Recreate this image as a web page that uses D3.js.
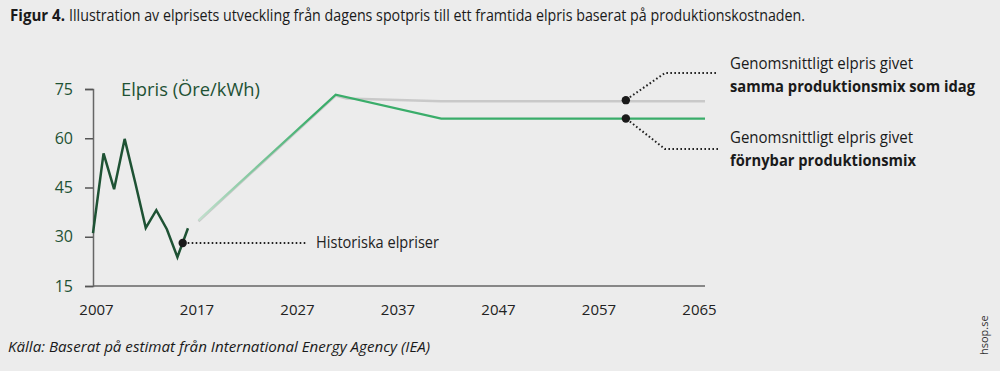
<!DOCTYPE html>
<html>
<head>
<meta charset="utf-8">
<script src="https://cdn.jsdelivr.net/npm/d3@7"></script>
<style>
  body { margin: 0; background: #ececec; }
  svg { display: block; font-family: "Open Sans", sans-serif; }
</style>
</head>
<body>
<svg id="chart"></svg>
<script>
// data
const histYears = [2007, 2008, 2009, 2010, 2011, 2012, 2013, 2014, 2015, 2016];
const histValues = [31.1, 55.4, 44.5, 59.8, 46.5, 32.7, 38.1, 32.3, 23.8, 32.6];
const sameMixYears = [2017, 2030, 2031, 2040, 2065];
const sameMixValues = [35, 73.3, 72.4, 71.6, 71.6];
const renewYears = [2017, 2030, 2040, 2065];
const renewValues = [35, 73.3, 66, 66];
const yTicks = [15, 30, 45, 60, 75];
const xTickLabels = ["2007", "2017", "2027", "2037", "2047", "2057", "2065"];
const histMarker = { year: 2015.5, value: 28.1 };
const markerYear = 2057.5;

const width = 1000;
const height = 371;

const svg = d3.select("#chart").attr("width", width).attr("height", height);

const xScale = d3.scaleLinear().domain([2007, 2065]).range([93, 705]);
const yScale = d3.scaleLinear().domain([15, 75]).range([286, 89]);
// year labels in the figure are evenly spaced, not at their true positions
const labelScale = d3.scalePoint().domain(xTickLabels).range([96, 699]);

const darkGreen = "#1e5234";
const green = "#3aad6a";

// title (two pieces so each can be fitted to its width)
svg.append("text").attr("x", 10).attr("y", 21)
  .style("font-size", "16.5px").style("font-weight", "bold").attr("fill", "#1a1a1a")
  .attr("textLength", 55).attr("lengthAdjust", "spacingAndGlyphs")
  .text("Figur 4.");
svg.append("text").attr("x", 69).attr("y", 21)
  .style("font-size", "16.5px").attr("fill", "#1a1a1a")
  .attr("textLength", 736).attr("lengthAdjust", "spacingAndGlyphs")
  .text("Illustration av elprisets utveckling från dagens spotpris till ett framtida elpris baserat på produktionskostnaden.");

// axes
const yAxis = d3.axisLeft(yScale).tickValues(yTicks).tickSize(8).tickPadding(12);
const gy = svg.append("g").attr("transform", "translate(93,0)").call(yAxis);
gy.select(".domain").attr("stroke", "#666").attr("stroke-width", 1.5);
gy.selectAll(".tick line").attr("stroke", "#555").attr("stroke-width", 1.5);
gy.selectAll(".tick text").attr("fill", darkGreen).style("font-size", "16px")
  .style("font-family", "'Open Sans', sans-serif");

svg.append("line")
  .attr("x1", xScale(2007)).attr("x2", xScale(2065))
  .attr("y1", yScale(15)).attr("y2", yScale(15))
  .attr("stroke", "#666").attr("stroke-width", 1.5);

const xAxis = d3.axisBottom(labelScale).tickSize(0).tickPadding(18);
const gx = svg.append("g").attr("transform", "translate(0,286)").call(xAxis);
gx.select(".domain").remove();
gx.selectAll(".tick text").attr("fill", "#222").style("font-size", "15px")
  .style("font-family", "'Open Sans', sans-serif");

// unit label
svg.append("text").attr("x", 121).attr("y", 96)
  .attr("fill", darkGreen).style("font-size", "19px")
  .attr("textLength", 139).attr("lengthAdjust", "spacingAndGlyphs")
  .text("Elpris (Öre/kWh)");

const line = d3.line().x((d) => xScale(d[0])).y((d) => yScale(d[1]));

// fade for the forecast start
const grad = svg.append("defs").append("linearGradient")
  .attr("id", "fade").attr("gradientUnits", "userSpaceOnUse")
  .attr("x1", xScale(2017)).attr("x2", xScale(2028)).attr("y1", 0).attr("y2", 0);
grad.append("stop").attr("offset", 0).attr("stop-color", "#c3e0ce");
grad.append("stop").attr("offset", 1).attr("stop-color", green);

svg.append("path")
  .datum(d3.zip(sameMixYears, sameMixValues))
  .attr("d", line)
  .attr("transform", "translate(0,1)")
  .attr("fill", "none").attr("stroke", "#c9c9c9").attr("stroke-width", 2.5);

svg.append("path")
  .datum(d3.zip(renewYears, renewValues))
  .attr("d", line)
  .attr("fill", "none").attr("stroke", "url(#fade)").attr("stroke-width", 2.2);

svg.append("path")
  .datum(d3.zip(histYears, histValues))
  .attr("d", line)
  .attr("fill", "none").attr("stroke", darkGreen).attr("stroke-width", 2.5)
  .attr("stroke-linejoin", "miter");

// annotations
const dotted = (pts) => svg.append("path")
  .attr("d", d3.line()(pts))
  .attr("fill", "none").attr("stroke", "#222").attr("stroke-width", 2)
  .attr("stroke-dasharray", "1.6,2.4");

const hx = xScale(histMarker.year), hy = yScale(histMarker.value);
dotted([[hx + 5, hy], [307, hy]]);
svg.append("circle").attr("cx", hx).attr("cy", hy).attr("r", 4.2).attr("fill", "#1a1a1a");
svg.append("text").attr("x", 316).attr("y", hy + 5)
  .attr("fill", "#222").style("font-size", "15.5px")
  .attr("textLength", 123).attr("lengthAdjust", "spacingAndGlyphs")
  .text("Historiska elpriser");

const mx = xScale(markerYear);
const topY = yScale(sameMixValues[sameMixValues.length - 1]);
const botY = yScale(renewValues[renewValues.length - 1]);
dotted([[mx + 4, topY - 3], [665, 73], [718, 73]]);
dotted([[mx + 4, botY + 3], [665, 149], [718, 149]]);
svg.append("circle").attr("cx", mx).attr("cy", topY).attr("r", 4.2).attr("fill", "#1a1a1a");
svg.append("circle").attr("cx", mx).attr("cy", botY).attr("r", 4.2).attr("fill", "#1a1a1a");

const note = (y, txt, bold, len) => svg.append("text").attr("x", 730).attr("y", y)
  .attr("fill", "#1a1a1a").style("font-size", "16px")
  .style("font-weight", bold ? "bold" : "normal")
  .attr("textLength", len).attr("lengthAdjust", "spacingAndGlyphs")
  .text(txt);
note(69, "Genomsnittligt elpris givet", false, 183);
note(92, "samma produktionsmix som idag", true, 245);
note(143, "Genomsnittligt elpris givet", false, 183);
note(166, "förnybar produktionsmix", true, 186);

// source
svg.append("text").attr("x", 8).attr("y", 352)
  .attr("fill", "#1a1a1a").style("font-size", "15px").style("font-style", "italic")
  .attr("textLength", 422).attr("lengthAdjust", "spacingAndGlyphs")
  .text("Källa: Baserat på estimat från International Energy Agency (IEA)");

svg.append("text").attr("transform", "translate(988,355) rotate(-90)")
  .attr("fill", "#333").style("font-size", "11px").text("hsop.se");
</script>
</body>
</html>
